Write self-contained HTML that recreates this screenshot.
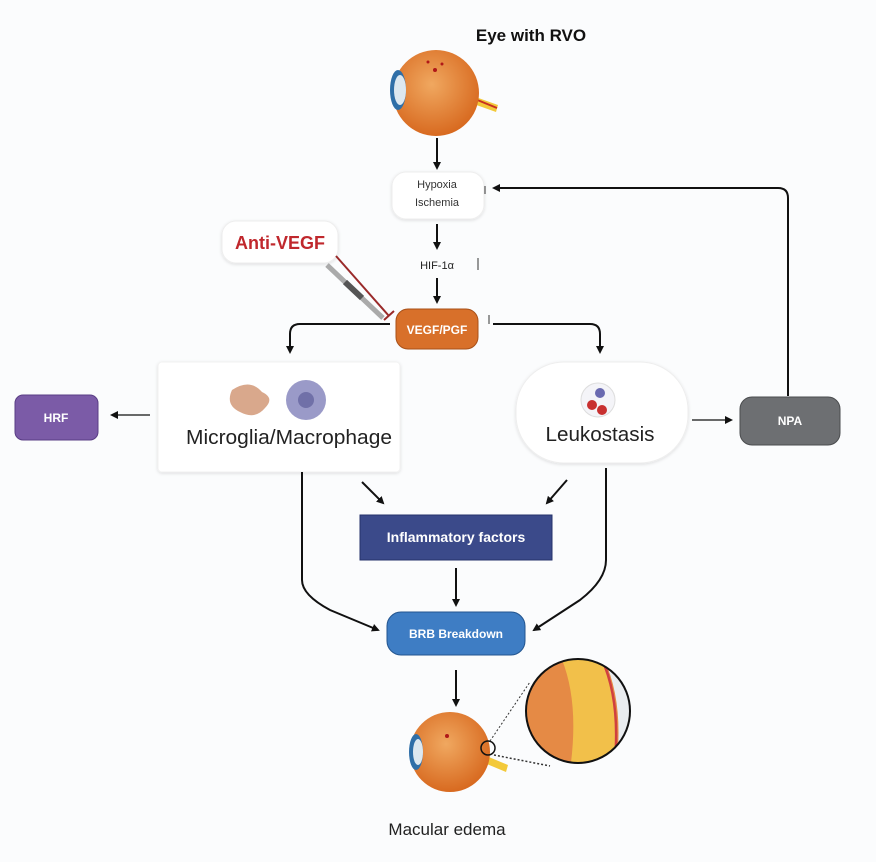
<!DOCTYPE html>
<html><head><meta charset="utf-8"><style>
html,body{margin:0;padding:0;background:#fbfcfd;}
svg{display:block;font-family:"Liberation Sans",sans-serif;}
</style></head><body>
<svg width="876" height="862" viewBox="0 0 876 862">
<defs>
<marker id="a" markerWidth="8" markerHeight="8" refX="6" refY="4" orient="auto" markerUnits="userSpaceOnUse"><path d="M0,0 L8,4 L0,8 z" fill="#111"/></marker>
<filter id="sh" x="-10%" y="-10%" width="120%" height="130%"><feDropShadow dx="0" dy="1" stdDeviation="1.5" flood-color="#000" flood-opacity="0.12"/></filter>
<radialGradient id="eye" cx="0.45" cy="0.4" r="0.6"><stop offset="0" stop-color="#f0a860"/><stop offset="1" stop-color="#d86a20"/></radialGradient>
<clipPath id="zc"><circle cx="578" cy="711" r="52"/></clipPath>
</defs>
<rect width="876" height="862" fill="#fbfcfd"/>
<text x="531" y="41" font-size="17" font-weight="bold" text-anchor="middle" fill="#111">Eye with RVO</text>
<g>
<path d="M470,95 L498,105 L496,112 L468,102z" fill="#f3c93a"/>
<path d="M470,97 L497,108" stroke="#c83020" stroke-width="2"/>
<circle cx="436" cy="93" r="43" fill="url(#eye)"/>
<ellipse cx="398" cy="90" rx="8" ry="20" fill="#2f6fa8"/>
<ellipse cx="400" cy="90" rx="6" ry="15" fill="#dde8f0"/>
<circle cx="435" cy="70" r="2" fill="#b01818"/><circle cx="428" cy="62" r="1.5" fill="#b01818"/><circle cx="442" cy="64" r="1.5" fill="#b01818"/>
</g>
<line x1="437" y1="138" x2="437" y2="168" stroke="#111" stroke-width="2" marker-end="url(#a)"/>
<rect x="392" y="172" width="92" height="47" rx="14" fill="#fff" stroke="#eee" filter="url(#sh)"/>
<text x="437" y="188" font-size="11" text-anchor="middle" fill="#333">Hypoxia</text>
<text x="437" y="206" font-size="11" text-anchor="middle" fill="#333">Ischemia</text>
<line x1="485" y1="194" x2="485" y2="186" stroke="#333" stroke-width="1"/>
<line x1="437" y1="224" x2="437" y2="248" stroke="#111" stroke-width="2" marker-end="url(#a)"/>
<text x="437" y="269" font-size="11" text-anchor="middle" fill="#222">HIF-1α</text>
<line x1="478" y1="270" x2="478" y2="258" stroke="#333" stroke-width="1"/>
<line x1="437" y1="278" x2="437" y2="302" stroke="#111" stroke-width="2" marker-end="url(#a)"/>
<rect x="396" y="309" width="82" height="40" rx="12" fill="#d8702a" stroke="#a85018"/>
<text x="437" y="334" font-size="12" font-weight="bold" text-anchor="middle" fill="#fff">VEGF/PGF</text>
<line x1="489" y1="324" x2="489" y2="315" stroke="#333" stroke-width="1"/>
<rect x="222" y="221" width="116" height="42" rx="14" fill="#fff" stroke="#eee" filter="url(#sh)"/>
<text x="280" y="249" font-size="18" font-weight="bold" text-anchor="middle" fill="#c0282d">Anti-VEGF</text>
<line x1="336" y1="256" x2="389" y2="316" stroke="#9a2a2a" stroke-width="2"/>
<line x1="384" y1="320" x2="394" y2="311" stroke="#9a2a2a" stroke-width="2"/>
<line x1="327" y1="265" x2="383" y2="318" stroke="#aaa" stroke-width="5"/>
<line x1="345" y1="282" x2="362" y2="298" stroke="#555" stroke-width="6"/>
<path d="M390,324 L300,324 Q290,324 290,334 L290,352" fill="none" stroke="#111" stroke-width="2" marker-end="url(#a)"/>
<path d="M493,324 L590,324 Q600,324 600,334 L600,352" fill="none" stroke="#111" stroke-width="2" marker-end="url(#a)"/>
<rect x="158" y="362" width="242" height="110" rx="4" fill="#fff" stroke="#f2f2f2" filter="url(#sh)"/>
<path d="M232,390 Q250,378 262,392 Q275,398 265,408 Q255,420 240,412 Q225,405 232,390z" fill="#d9a88c"/>
<circle cx="306" cy="400" r="20" fill="#9a9ac8"/><circle cx="306" cy="400" r="8" fill="#7070a8"/>
<text x="289" y="444" font-size="20" text-anchor="middle" fill="#222" textLength="206" lengthAdjust="spacingAndGlyphs">Microglia/Macrophage</text>
<rect x="516" y="362" width="172" height="101" rx="48" fill="#fff" stroke="#eee" filter="url(#sh)"/>
<circle cx="598" cy="400" r="17" fill="#f4f4f8" stroke="#ddd"/>
<circle cx="592" cy="405" r="5" fill="#c83030"/><circle cx="602" cy="410" r="5" fill="#c83030"/><circle cx="600" cy="393" r="5" fill="#6a6ab0"/>
<text x="600" y="441" font-size="20" text-anchor="middle" fill="#222" textLength="109" lengthAdjust="spacingAndGlyphs">Leukostasis</text>
<rect x="15" y="395" width="83" height="45" rx="8" fill="#7b5ba7" stroke="#5a3e85"/>
<text x="56" y="422" font-size="12" font-weight="bold" text-anchor="middle" fill="#fff">HRF</text>
<line x1="150" y1="415" x2="112" y2="415" stroke="#111" stroke-width="1.2" marker-end="url(#a)"/>
<rect x="740" y="397" width="100" height="48" rx="12" fill="#6d6f72" stroke="#4a4c4e"/>
<text x="790" y="425" font-size="12" font-weight="bold" text-anchor="middle" fill="#fff">NPA</text>
<line x1="692" y1="420" x2="731" y2="420" stroke="#111" stroke-width="1.2" marker-end="url(#a)"/>
<path d="M788,396 L788,198 Q788,188 778,188 L494,188" fill="none" stroke="#111" stroke-width="2" marker-end="url(#a)"/>
<rect x="360" y="515" width="192" height="45" fill="#3b4a8a" stroke="#26326a"/>
<text x="456" y="542" font-size="14" font-weight="bold" text-anchor="middle" fill="#fff">Inflammatory factors</text>
<line x1="362" y1="482" x2="383" y2="503" stroke="#111" stroke-width="2" marker-end="url(#a)"/>
<line x1="567" y1="480" x2="547" y2="503" stroke="#111" stroke-width="2" marker-end="url(#a)"/>
<path d="M302,472 L302,580 Q302,595 330,610 L378,630" fill="none" stroke="#111" stroke-width="2" marker-end="url(#a)"/>
<path d="M606,468 L606,560 Q606,580 580,600 L534,630" fill="none" stroke="#111" stroke-width="2" marker-end="url(#a)"/>
<line x1="456" y1="568" x2="456" y2="605" stroke="#111" stroke-width="2" marker-end="url(#a)"/>
<rect x="387" y="612" width="138" height="43" rx="14" fill="#3e7dc4" stroke="#23558f"/>
<text x="456" y="638" font-size="12" font-weight="bold" text-anchor="middle" fill="#fff">BRB Breakdown</text>
<line x1="456" y1="670" x2="456" y2="705" stroke="#111" stroke-width="2" marker-end="url(#a)"/>
<path d="M484,755 L508,765 L506,772 L482,762z" fill="#f3c93a"/>
<circle cx="450" cy="752" r="40" fill="url(#eye)"/>
<ellipse cx="416" cy="752" rx="7" ry="18" fill="#2f6fa8"/>
<ellipse cx="418" cy="752" rx="5" ry="13" fill="#dde8f0"/>
<circle cx="447" cy="736" r="2" fill="#b01818"/>
<circle cx="488" cy="748" r="7" fill="none" stroke="#111" stroke-width="1.5"/>
<line x1="490" y1="741" x2="530" y2="682" stroke="#333" stroke-dasharray="2,2"/>
<line x1="494" y1="755" x2="550" y2="766" stroke="#333" stroke-width="1.5" stroke-dasharray="2,2"/>
<g clip-path="url(#zc)">
<rect x="520" y="655" width="120" height="115" fill="#e58a45"/>
<path d="M560,655 Q580,700 570,770 L612,770 Q625,720 600,655z" fill="#f2c04a"/>
<path d="M598,655 L602,655 Q625,700 616,770 L640,770 L640,655z" fill="#e9ecef"/>
<path d="M600,655 Q622,700 614,770" fill="none" stroke="#d04040" stroke-width="2.5"/>
</g>
<circle cx="578" cy="711" r="52" fill="none" stroke="#111" stroke-width="2"/>
<text x="447" y="835" font-size="17" text-anchor="middle" fill="#222">Macular edema</text>
</svg>
</body></html>
